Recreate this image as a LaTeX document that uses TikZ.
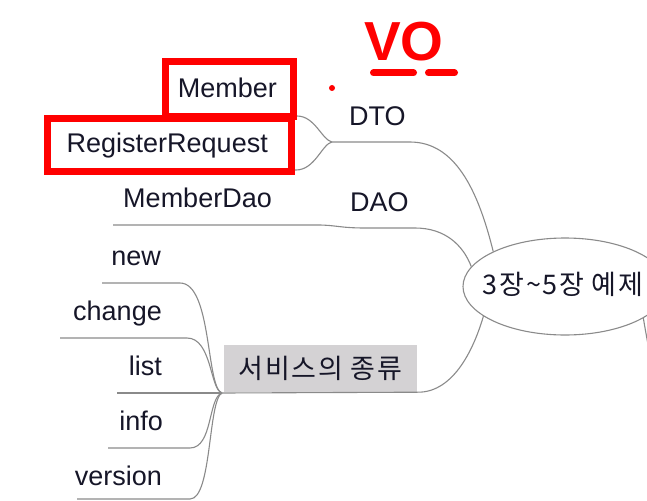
\documentclass[tikz,border=0pt]{standalone}
\usepackage{fontspec}
\setmainfont{Liberation Sans}
\newfontfamily\kr[LetterSpace=6]{Noto Sans CJK KR}
\usetikzlibrary{shapes.geometric}
\definecolor{txt}{RGB}{22,22,40}
\definecolor{branch}{RGB}{138,138,138}
\definecolor{boxgray}{RGB}{212,210,212}
\definecolor{penred}{RGB}{255,0,0}
\tikzset{
  lbl/.style={inner sep=0pt, text=txt, font=\fontsize{27}{30}\selectfont},
  krlbl/.style={inner sep=0pt, text=txt, font=\kr\fontsize{27}{30}\selectfont},
  conn/.style={draw=branch, line width=1.1pt},
  redbox/.style={draw=penred, line width=7pt},
  redpen/.style={draw=penred, line width=7pt, line cap=round}
}
\begin{document}
\begin{tikzpicture}[x=1pt,y=-1pt]
\useasboundingbox (0,0) rectangle (647,500);
\clip (0,0) rectangle (647,500);
% root
\node[ellipse, draw=branch, line width=1.1pt, minimum width=204pt, minimum height=97pt, inner sep=0pt] (root) at (565,286.5) {};
\node[krlbl] (roottxt) at (563,284) {3장\textasciitilde 5장 예제};
\coordinate (rightend) at (649,350);
\draw[conn] (root.338) .. controls (645,328) .. (rightend);
% DTO branch
\node[lbl, anchor=base west] (dto) at (349,125) {DTO};
\node[lbl, anchor=base east] (member) at (277,98) {Member};
\node[lbl, anchor=base east] (regreq) at (268,152) {RegisterRequest};
\coordinate (dtohub) at (332,142);
\coordinate (mu0) at (170,116);
\coordinate (mu) at (297,116);
\coordinate (ru0) at (50,170);
\coordinate (ru) at (296,170);
\draw[conn] (mu0) -- (mu) .. controls (315,116) and (322,140) .. (dtohub);
\draw[conn] (ru0) -- (ru) .. controls (315,170) and (322,144) .. (dtohub);
\draw[conn] (dtohub) -- (410,142) .. controls (455,142) and (478,190) .. (root.154);
% DAO branch
\node[lbl, anchor=base west] (dao) at (350,211) {DAO};
\node[lbl, anchor=base east] (memberdao) at (272,207) {MemberDao};
\coordinate (mdu0) at (113,225);
\coordinate (mdu) at (318,225);
\draw[conn] (mdu0) -- (mdu) .. controls (335,225) and (340,228) .. (365,228) -- (415,228) .. controls (445,228) and (463,245) .. (root.168);
% service branch
\node[krlbl, fill=boxgray, minimum width=193pt, minimum height=47pt] (svc) at (320.5,368.5) {서비스의 종류};
\coordinate (svchub) at (222,393);
\draw[conn] (svchub) -- (svc.south east) .. controls (455,393) and (475,345) .. (root.200);
\node[lbl, anchor=base east] (new) at (161,265) {new};
\node[lbl, anchor=base east] (change) at (162,320) {change};
\node[lbl, anchor=base east] (list) at (162,375) {list};
\node[lbl, anchor=base east] (info) at (163,430) {info};
\node[lbl, anchor=base east] (version) at (162,485) {version};
\coordinate (nu0) at (102,283);
\coordinate (nu) at (180,283);
\coordinate (cu0) at (60,338);
\coordinate (cu) at (187,338);
\coordinate (lu0) at (117,393);
\coordinate (iu0) at (108,448);
\coordinate (iu) at (190,448);
\coordinate (vu0) at (77,499);
\coordinate (vu) at (190,499);
\draw[conn] (nu0) -- (nu) .. controls (212,283) and (206,388) .. (svchub);
\draw[conn] (cu0) -- (cu) .. controls (212,338) and (210,390) .. (svchub);
\draw[conn] (lu0) -- (svchub);
\draw[conn] (iu0) -- (iu) .. controls (213,448) and (208,397) .. (svchub);
\draw[conn] (vu0) -- (vu) .. controls (212,499) and (208,400) .. (svchub);
% red annotations
\draw[redbox] (165.5,61.5) rectangle (293.5,116.5);
\draw[redbox] (47.5,118.5) rectangle (291.5,171.5);
\fill[penred] (332,88) circle (3);
\node[inner sep=0pt, anchor=base west, text=penred, font=\bfseries\fontsize{55}{55}\selectfont] (vo) at (364,61) {VO};
\draw[redpen] (373.5,73) -- (413.5,73);
\draw[redpen] (428.5,73) -- (454.5,73);
\end{tikzpicture}
\end{document}
